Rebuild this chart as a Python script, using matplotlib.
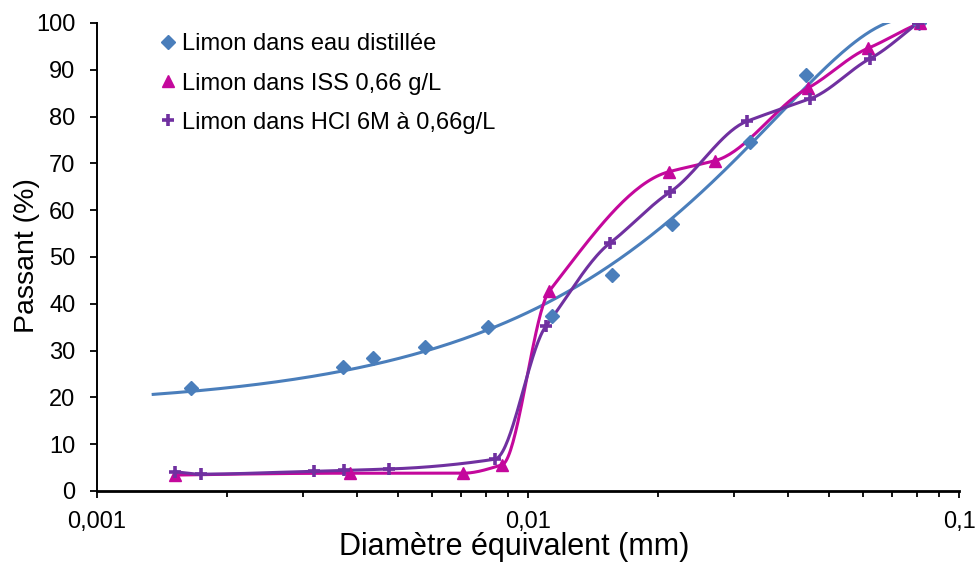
import numpy as np
import matplotlib
matplotlib.use("Agg")
import matplotlib.pyplot as plt
from matplotlib.lines import Line2D
from matplotlib.ticker import FixedLocator, LogLocator, NullFormatter

plt.rcParams['font.family'] = ['Liberation Sans', 'DejaVu Sans']

# --- data ---
eau_x = [0.00165, 0.00372, 0.00436, 0.00577, 0.00808, 0.01137, 0.01566, 0.0216, 0.0327, 0.0442, 0.0808]
eau_y = [22.0, 26.4, 28.4, 30.8, 35.0, 37.4, 46.2, 57.1, 74.6, 88.8, 100.0]

iss_x = [0.00152, 0.00386, 0.00707, 0.00871, 0.0112, 0.0212, 0.0272, 0.0446, 0.0615, 0.0812]
iss_y = [3.4, 3.8, 3.8, 5.6, 42.7, 68.2, 70.6, 86.1, 94.6, 100.0]

hcl_x = [0.00152, 0.00174, 0.00319, 0.00374, 0.00476, 0.00838, 0.0110, 0.0155, 0.0213, 0.0322, 0.0451, 0.0622, 0.0802]
hcl_y = [4.1, 3.6, 4.2, 4.4, 4.7, 6.8, 35.2, 53.0, 63.8, 79.0, 83.8, 92.4, 100.0]

labels = ["Limon dans eau distillée", "Limon dans ISS 0,66 g/L", "Limon dans HCl 6M à 0,66g/L"]
xticks = [0.001, 0.01, 0.1]
xtick_labels = ["0,001", "0,01", "0,1"]
yticks = list(range(0, 101, 10))

c_blue = '#4A7EBB'
c_pink = '#C4089C'
c_purple = '#7030A0'


def _end_slope(h0, h1, d0, d1):
    s = ((2 * h0 + h1) * d0 - h0 * d1) / (h0 + h1)
    if np.sign(s) != np.sign(d0):
        s = 0.0
    elif np.sign(d0) != np.sign(d1) and abs(s) > abs(3 * d0):
        s = 3 * d0
    return s


def smooth(xs, ys, n=40, soft=0.75):
    # shape-preserving cubic through the points, in log10(x) space
    u = np.log10(np.asarray(xs, float))
    v = np.asarray(ys, float)
    h = np.diff(u)
    delta = np.diff(v) / h
    m = len(u)
    d = np.zeros(m)
    for k in range(1, m - 1):
        if delta[k - 1] * delta[k] <= 0:
            d[k] = 0.0
        else:
            w1 = 2 * h[k] + h[k - 1]
            w2 = h[k] + 2 * h[k - 1]
            d[k] = soft * (w1 + w2) / (w1 / delta[k - 1] + w2 / delta[k])
    d[0] = _end_slope(h[0], h[1], delta[0], delta[1])
    d[-1] = _end_slope(h[-1], h[-2], delta[-1], delta[-2])
    us, vs = [], []
    for k in range(m - 1):
        t = np.linspace(0, 1, n)
        if k > 0:
            t = t[1:]
        h00 = 2 * t ** 3 - 3 * t ** 2 + 1
        h10 = t ** 3 - 2 * t ** 2 + t
        h01 = -2 * t ** 3 + 3 * t ** 2
        h11 = t ** 3 - t ** 2
        us.append(u[k] + t * h[k])
        vs.append(h00 * v[k] + h10 * h[k] * d[k] + h01 * v[k + 1] + h11 * h[k] * d[k + 1])
    return 10 ** np.concatenate(us), np.concatenate(vs)


fig = plt.figure(figsize=(9.78, 5.69), dpi=100)
ax = fig.add_axes([0.0992, 0.1371, 0.8814, 0.8225])

# blue: polynomial trendline (order 2), extended slightly backward
coef = np.polyfit(eau_x, eau_y, 2)
tx = np.logspace(np.log10(0.00135), np.log10(max(eau_x)), 300)
ax.plot(tx, np.polyval(coef, tx), color=c_blue, lw=2.2, zorder=2)
ax.plot(eau_x, eau_y, linestyle='none', marker='D', ms=7, color=c_blue, zorder=3)

sx, sy = smooth(iss_x, iss_y)
ax.plot(sx, sy, color=c_pink, lw=2.2, zorder=2)
ax.plot(iss_x, iss_y, linestyle='none', marker='^', ms=8, color=c_pink, zorder=3)

sx, sy = smooth(hcl_x, hcl_y)
ax.plot(sx, sy, color=c_purple, lw=2.2, zorder=2)
ax.plot(hcl_x, hcl_y, linestyle='none', marker='+', ms=9, mew=2.6, color=c_purple, zorder=3)

ax.set_xscale('log')
ax.set_xlim(0.001, 0.1)
ax.set_ylim(0, 100)
ax.xaxis.set_major_locator(FixedLocator(xticks))
ax.set_xticklabels(xtick_labels)
ax.xaxis.set_minor_locator(LogLocator(base=10, subs=np.arange(2, 10)))
ax.xaxis.set_minor_formatter(NullFormatter())
ax.set_yticks(yticks)

for s in ['top', 'right']:
    ax.spines[s].set_visible(False)
ax.spines['left'].set_linewidth(1.4)
ax.spines['bottom'].set_linewidth(2.0)
ax.tick_params(axis='both', which='major', direction='out', length=5, width=1.3, labelsize=17, colors='black')
ax.tick_params(axis='x', which='minor', direction='out', length=4, width=1.3)
ax.tick_params(axis='x', which='major', pad=9.5)
ax.tick_params(axis='y', which='major', pad=10.5)

ax.set_xlabel("Diamètre équivalent (mm)", fontsize=22)
ax.xaxis.set_label_coords(0.4838, -0.088)
ax.set_ylabel("Passant (%)", fontsize=20.5)
ax.yaxis.set_label_coords(-0.066, 0.502)

handles = [
    Line2D([], [], linestyle='none', marker='D', ms=7, color=c_blue),
    Line2D([], [], linestyle='none', marker='^', ms=8, color=c_pink),
    Line2D([], [], linestyle='none', marker='+', ms=9, mew=2.6, color=c_purple),
]
ax.legend(handles, labels, loc='upper left', bbox_to_anchor=(0.0742, 0.978), frameon=False,
          fontsize=17, handlelength=0.6, handletextpad=0.3, labelspacing=0.73,
          borderaxespad=0.0, borderpad=0.0)

fig.savefig("out.png", dpi=100)
